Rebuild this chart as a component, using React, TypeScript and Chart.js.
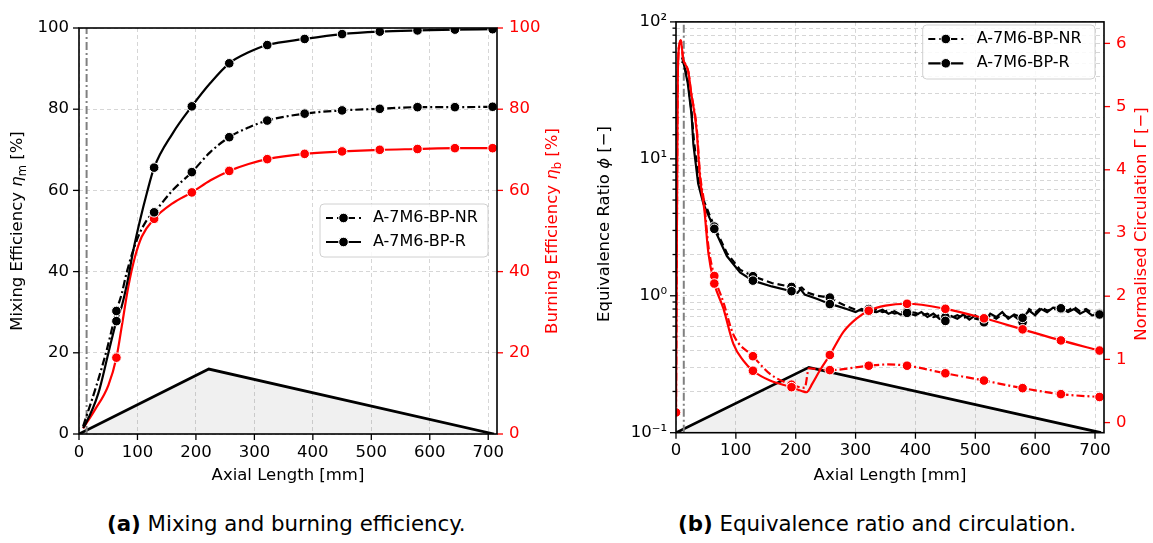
import React, { useEffect, useRef } from "react";
import { Chart, registerables } from "chart.js";
Chart.register(...registerables);

// ===== (a) Mixing and burning efficiency =====
const markerXA = [64, 128.5, 193, 257, 322, 386, 450, 514.5, 579, 643, 707.5];
const mixingR = [27.8, 65.6, 80.7, 91.3, 95.8, 97.3, 98.5, 99.1, 99.4, 99.6, 99.7];
const mixingNR = [30.3, 54.6, 64.5, 73.1, 77.2, 78.9, 79.7, 80.1, 80.5, 80.5, 80.6];
const burningR = [18.8, 53.0, 59.5, 64.8, 67.7, 69.0, 69.6, 70.0, 70.2, 70.4, 70.4];
// points traced along the curves between markers
const mixingRTraceX = [7, 10.3, 33, 50.2, 73, 83.4, 93, 104.5, 116, 160, 225, 290];
const mixingRTraceY = [1.5, 2.2, 10, 19.9, 31.4, 37.9, 45.3, 52.7, 59.3, 74.0, 86.5, 94.0];
const mixingNRTraceX = [7, 30, 48, 73, 82, 99, 116, 160, 225, 290];
const mixingNRTraceY = [1.9, 12, 21, 34.5, 40, 47.8, 52.7, 60.0, 69.5, 75.5];
const burningRTraceX = [7, 27.4, 50.2, 73, 84.4, 95.9, 107.3, 160, 225, 290];
const burningRTraceY = [1.4, 6.0, 12.0, 26.4, 36.3, 43.7, 48.6, 56.8, 62.5, 66.5];
const geometryX = [0, 222, 710];
const geometryYA = [0, 16, 0];
const inletX = 13;

// ===== (b) Equivalence ratio and circulation =====
const markerXB = [64, 128.5, 193, 257, 322, 386, 450, 514.5, 579, 643, 707.5];
const phiR = [3.08, 1.29, 1.08, 0.87, 0.77, 0.75, 0.655, 0.64, 0.69, 0.81, 0.73];
const phiNR = [3.2, 1.39, 1.16, 0.97, 0.8, 0.77, 0.7, 0.66, 0.64, 0.8, 0.74];
const phiRTraceX = [10, 12, 19.5, 26, 29, 37, 45.7, 85, 107, 160, 203, 208, 215, 235, 270, 285, 300, 310, 335, 345, 355, 365, 375, 400, 410, 420, 430, 440, 460, 470, 480, 490, 500, 525, 535, 545, 555, 565, 590, 600, 610, 620, 630, 655, 665, 675, 685, 695];
const phiRTraceY = [50, 52, 36, 21, 12.8, 6.6, 4.7, 1.95, 1.48, 1.17, 1.05, 1.12, 1.02, 0.95, 0.84, 0.8, 0.76, 0.8, 0.76, 0.79, 0.74, 0.77, 0.73, 0.72, 0.76, 0.7, 0.74, 0.68, 0.71, 0.68, 0.73, 0.67, 0.72, 0.74, 0.7, 0.76, 0.68, 0.73, 0.78, 0.72, 0.8, 0.76, 0.82, 0.76, 0.8, 0.74, 0.78, 0.72];
const phiNRTraceX = [10, 13, 20, 26, 30, 38, 46, 85, 107, 160, 203, 210, 218, 235, 270, 285, 300, 312, 335, 345, 355, 365, 375, 400, 410, 420, 430, 440, 460, 470, 480, 490, 500, 525, 535, 545, 555, 565, 590, 600, 610, 620, 630, 655, 665, 675, 685, 695];
const phiNRTraceY = [55, 50, 37, 22, 13.5, 7.0, 5.0, 2.05, 1.55, 1.24, 1.12, 1.15, 1.06, 1.0, 0.9, 0.84, 0.79, 0.78, 0.79, 0.76, 0.78, 0.74, 0.76, 0.75, 0.72, 0.74, 0.7, 0.72, 0.69, 0.72, 0.69, 0.71, 0.68, 0.72, 0.68, 0.73, 0.7, 0.71, 0.8, 0.75, 0.82, 0.78, 0.8, 0.78, 0.83, 0.77, 0.8, 0.75];
const circRMarkX = [0, 64, 128.5, 193, 257, 322, 386, 450, 514.5, 579, 643, 707.5];
const circR = [0.16, 2.2, 0.82, 0.56, 1.07, 1.77, 1.88, 1.8, 1.65, 1.475, 1.3, 1.14];
const circNRMarkX = [64, 128.5, 193, 257, 322, 386, 450, 514.5, 579, 643, 707.5];
const circNR = [2.32, 1.05, 0.6, 0.83, 0.9, 0.9, 0.78, 0.665, 0.545, 0.45, 0.405];
const circRTraceX = [1.5, 3, 6, 8, 12, 15, 20.6, 25, 34.6, 40, 47.4, 54, 79, 96, 112.5, 157, 210, 218, 228, 240, 280, 302, 350];
const circRTraceY = [3.0, 5.5, 6.0, 6.05, 5.75, 5.68, 5.55, 5.24, 4.61, 3.88, 3.36, 2.69, 1.81, 1.24, 0.98, 0.665, 0.5, 0.48, 0.62, 0.82, 1.44, 1.65, 1.85];
const circNRTraceX = [0, 1.5, 3, 6, 8, 12, 15, 20.6, 25, 34.6, 40, 47.4, 54, 79, 96, 157, 215, 222, 240, 354];
const circNRTraceY = [0.16, 3.0, 5.5, 6.0, 6.05, 5.75, 5.68, 5.55, 5.24, 4.66, 3.95, 3.45, 2.8, 1.91, 1.39, 0.77, 0.55, 0.86, 0.84, 0.92];
const geometryYB = [0.1, 0.3, 0.1];
const logTickValues = [0.1, 1, 10, 100];
const logTickLabels = ["10\u207B\u00B9", "10\u2070", "10\u00B9", "10\u00B2"];

const seriesLabels = ["A-7M6-BP-NR", "A-7M6-BP-R"];

// ===== helpers =====
type Pt = { x: number; y: number };
const zip = (xs: number[], ys: number[]): Pt[] => xs.map((x, i) => ({ x, y: ys[i] }));
const merge = (a: Pt[], b: Pt[]): Pt[] => [...a, ...b].sort((p, q) => p.x - q.x);

const FONT = "'DejaVu Sans', sans-serif";
const TICK_SIZE = 16.5;
const TITLE_SIZE = 16.5;
const LEG_SIZE = 16;
const RED = "#ff0000";
const GRID = "rgba(0,0,0,0.16)";
const DASHDOT = [8, 3, 2, 3];
const LINE_W = 2.2;
const MARK_R = 4.8;

type Seg = { t: string; it?: boolean; sub?: boolean };

function drawRich(ctx: CanvasRenderingContext2D, segs: Seg[], cx: number, cy: number, rot: number, color: string, size: number) {
  const fontOf = (s: Seg) => `${s.it ? "italic " : ""}${s.sub ? size * 0.7 : size}px ${FONT}`;
  let total = 0;
  const ws = segs.map((s) => {
    ctx.font = fontOf(s);
    const w = ctx.measureText(s.t).width;
    total += w;
    return w;
  });
  ctx.save();
  ctx.translate(cx, cy);
  ctx.rotate(rot);
  ctx.fillStyle = color;
  ctx.textBaseline = "middle";
  ctx.textAlign = "left";
  let x = -total / 2;
  segs.forEach((s, i) => {
    ctx.font = fontOf(s);
    ctx.fillText(s.t, x, s.sub ? size * 0.28 : 0);
    x += ws[i];
  });
  ctx.restore();
}

type TickSpec = { id: string; side: "left" | "right" | "bottom"; color: string; len: number; minorLen?: number; isMajor?: (v: number) => boolean };
type TitleSpec = { segs: Seg[]; x: number; y: number; rot: number; color: string };
type LegendSpec = { x: number; y: number; w: number; h: number; rows: number[]; sx0: number; sx1: number; tx: number };

function decor(ticks: TickSpec[], titles: TitleSpec[], legend: LegendSpec) {
  return {
    id: "decor",
    afterDraw(chart: any) {
      const ctx: CanvasRenderingContext2D = chart.ctx;
      const a = chart.chartArea;
      ticks.forEach((spec) => {
        const s = chart.scales[spec.id];
        ctx.save();
        ctx.strokeStyle = spec.color;
        ctx.lineWidth = 1.3;
        s.ticks.forEach((t: any) => {
          const v = t.value;
          const major = spec.isMajor ? spec.isMajor(v) : true;
          const L = major ? spec.len : spec.minorLen || 0;
          if (!L) return;
          const p = s.getPixelForValue(v);
          ctx.beginPath();
          if (spec.side === "left") { ctx.moveTo(a.left, p); ctx.lineTo(a.left - L, p); }
          else if (spec.side === "right") { ctx.moveTo(a.right, p); ctx.lineTo(a.right + L, p); }
          else { ctx.moveTo(p, a.bottom); ctx.lineTo(p, a.bottom + L); }
          ctx.stroke();
        });
        ctx.restore();
      });
      ctx.save();
      ctx.strokeStyle = "#000";
      ctx.lineWidth = 1.6;
      ctx.strokeRect(a.left, a.top, a.right - a.left, a.bottom - a.top);
      ctx.restore();
      titles.forEach((t) => drawRich(ctx, t.segs, t.x, t.y, t.rot, t.color, TITLE_SIZE));
      ctx.save();
      ctx.beginPath();
      if ((ctx as any).roundRect) (ctx as any).roundRect(legend.x, legend.y, legend.w, legend.h, 4);
      else ctx.rect(legend.x, legend.y, legend.w, legend.h);
      ctx.fillStyle = "rgba(255,255,255,0.85)";
      ctx.fill();
      ctx.strokeStyle = "#d0d0d0";
      ctx.lineWidth = 1;
      ctx.stroke();
      seriesLabels.forEach((lab, i) => {
        const y = legend.rows[i];
        ctx.beginPath();
        ctx.setLineDash(i === 0 ? [7, 4] : []);
        ctx.strokeStyle = "#000";
        ctx.lineWidth = LINE_W;
        ctx.moveTo(legend.sx0, y);
        ctx.lineTo(legend.sx1, y);
        ctx.stroke();
        ctx.setLineDash([]);
        ctx.beginPath();
        ctx.arc((legend.sx0 + legend.sx1) / 2, y, MARK_R, 0, Math.PI * 2);
        ctx.fillStyle = "#000";
        ctx.fill();
        ctx.strokeStyle = "#fff";
        ctx.lineWidth = 1;
        ctx.stroke();
        ctx.font = `${LEG_SIZE}px ${FONT}`;
        ctx.fillStyle = "#000";
        ctx.textBaseline = "middle";
        ctx.textAlign = "left";
        ctx.fillText(lab, legend.tx, y);
      });
      ctx.restore();
    },
  };
}

const tickFont = { family: FONT, size: TICK_SIZE };

function curve(data: Pt[], color: string, dash: number[], yAxisID: string, mono: boolean, order: number) {
  return {
    data,
    borderColor: color,
    borderWidth: LINE_W,
    borderDash: dash,
    pointRadius: 0,
    fill: false,
    yAxisID,
    cubicInterpolationMode: mono ? "monotone" : "default",
    tension: 0,
    order,
  };
}
function markers(data: Pt[], color: string, yAxisID: string, order: number) {
  return {
    data,
    showLine: false,
    pointRadius: MARK_R,
    pointBackgroundColor: color,
    pointBorderColor: "#fff",
    pointBorderWidth: 1,
    yAxisID,
    order,
  };
}

function configA(): any {
  return {
    type: "line",
    data: {
      datasets: [
        { data: zip(geometryX, geometryYA), borderColor: "#000", borderWidth: 2.8, backgroundColor: "rgba(0,0,0,0.06)", fill: "origin", pointRadius: 0, yAxisID: "y", order: 20 },
        { data: [{ x: inletX, y: 0 }, { x: inletX, y: 100 }], borderColor: "#808080", borderWidth: 2, borderDash: DASHDOT, pointRadius: 0, yAxisID: "y", order: 19 },
        curve(merge(zip(markerXA, burningR), zip(burningRTraceX, burningRTraceY)), RED, [], "y1", true, 8),
        curve(merge(zip(markerXA, mixingNR), zip(mixingNRTraceX, mixingNRTraceY)), "#000", DASHDOT, "y", true, 7),
        curve(merge(zip(markerXA, mixingR), zip(mixingRTraceX, mixingRTraceY)), "#000", [], "y", true, 6),
        markers(zip(markerXA, burningR), RED, "y1", 3),
        markers(zip(markerXA, mixingNR), "#000", "y", 2),
        markers(zip(markerXA, mixingR), "#000", "y", 1),
      ],
    },
    options: {
      animation: false,
      responsive: false,
      layout: { padding: { top: 28, left: 0, right: 0, bottom: 11 } },
      plugins: { legend: { display: false }, tooltip: { enabled: false } },
      scales: {
        x: {
          type: "linear", min: 0, max: 715,
          afterFit: (s: any) => { s.height = 50; },
          ticks: { stepSize: 100, includeBounds: false, font: tickFont, color: "#000", padding: 9, maxRotation: 0 },
          grid: { color: GRID, drawTicks: false, lineWidth: 1 },
          border: { display: false, dash: [4, 3] },
        },
        y: {
          type: "linear", position: "left", min: 0, max: 100,
          afterFit: (s: any) => { s.width = 79; },
          ticks: { stepSize: 20, font: tickFont, color: "#000", padding: 10 },
          grid: { color: GRID, drawTicks: false, lineWidth: 1 },
          border: { display: false, dash: [4, 3] },
        },
        y1: {
          type: "linear", position: "right", min: 0, max: 100,
          afterFit: (s: any) => { s.width = 79; },
          ticks: { stepSize: 20, font: tickFont, color: RED, padding: 12 },
          grid: { display: false, drawTicks: false },
          border: { display: false },
        },
      },
    },
    plugins: [
      decor(
        [
          { id: "x", side: "bottom", color: "#000", len: 6 },
          { id: "y", side: "left", color: "#000", len: 6 },
          { id: "y1", side: "right", color: RED, len: 6 },
        ],
        [
          { segs: [{ t: "Axial Length [mm]" }], x: 288, y: 476, rot: 0, color: "#000" },
          { segs: [{ t: "Mixing Efficiency " }, { t: "\u03B7", it: true }, { t: "m", sub: true }, { t: " [%]" }], x: 18, y: 231, rot: -Math.PI / 2, color: "#000" },
          { segs: [{ t: "Burning Efficiency " }, { t: "\u03B7", it: true }, { t: "b", sub: true }, { t: " [%]" }], x: 553, y: 231, rot: -Math.PI / 2, color: RED },
        ],
        { x: 320, y: 204, w: 168, h: 53, rows: [218, 242], sx0: 326, sx1: 361, tx: 373 }
      ),
    ],
  };
}

const isPow10 = (v: number) => {
  const l = Math.log10(v);
  return Math.abs(l - Math.round(l)) < 1e-6;
};

function configB(): any {
  return {
    type: "line",
    data: {
      datasets: [
        { data: zip(geometryX, geometryYB), borderColor: "#000", borderWidth: 2.8, backgroundColor: "rgba(0,0,0,0.06)", fill: "start", pointRadius: 0, yAxisID: "y", order: 20 },
        { data: [{ x: inletX, y: 0.1 }, { x: inletX, y: 100 }], borderColor: "#808080", borderWidth: 2, borderDash: DASHDOT, pointRadius: 0, yAxisID: "y", order: 19 },
        curve(merge(zip(markerXB, phiNR), zip(phiNRTraceX, phiNRTraceY)), "#000", [7, 4], "y", false, 10),
        curve(merge(zip(markerXB, phiR), zip(phiRTraceX, phiRTraceY)), "#000", [], "y", false, 9),
        curve(merge(zip(circNRMarkX, circNR), zip(circNRTraceX, circNRTraceY)), RED, DASHDOT, "y1", true, 8),
        curve(merge(zip(circRMarkX, circR), zip(circRTraceX, circRTraceY)), RED, [], "y1", true, 7),
        markers(zip(markerXB, phiNR), "#000", "y", 4),
        markers(zip(markerXB, phiR), "#000", "y", 3),
        markers(zip(circNRMarkX, circNR), RED, "y1", 2),
        markers(zip(circRMarkX, circR), RED, "y1", 1),
      ],
    },
    options: {
      animation: false,
      responsive: false,
      layout: { padding: { top: 15.7, left: 0, right: 0, bottom: 12.3 } },
      plugins: { legend: { display: false }, tooltip: { enabled: false } },
      scales: {
        x: {
          type: "linear", min: 0, max: 715,
          afterFit: (s: any) => { s.height = 50; },
          ticks: { stepSize: 100, includeBounds: false, font: tickFont, color: "#000", padding: 8, maxRotation: 0 },
          grid: { color: GRID, drawTicks: false, lineWidth: 1 },
          border: { display: false, dash: [4, 3] },
        },
        y: {
          type: "logarithmic", position: "left", min: 0.1, max: 100,
          afterFit: (s: any) => { s.width = 100; },
          ticks: {
            font: tickFont, color: "#000", padding: 9, autoSkip: false,
            callback: (v: number) => {
              const i = logTickValues.findIndex((t) => Math.abs(Math.log10(t) - Math.log10(v)) < 1e-6);
              return i >= 0 ? logTickLabels[i] : "";
            },
          },
          grid: { color: GRID, drawTicks: false, lineWidth: 1 },
          border: { display: false, dash: [4, 3] },
        },
        y1: {
          type: "linear", position: "right", min: -0.16, max: 6.34,
          afterFit: (s: any) => { s.width = 49; },
          ticks: { stepSize: 1, includeBounds: false, font: tickFont, color: RED, padding: 12 },
          grid: { display: false, drawTicks: false },
          border: { display: false },
        },
      },
    },
    plugins: [
      decor(
        [
          { id: "x", side: "bottom", color: "#000", len: 6 },
          { id: "y", side: "left", color: "#000", len: 6, minorLen: 3.5, isMajor: isPow10 },
          { id: "y1", side: "right", color: RED, len: 6 },
        ],
        [
          { segs: [{ t: "Axial Length [mm]" }], x: 314, y: 476, rot: 0, color: "#000" },
          { segs: [{ t: "Equivalence Ratio " }, { t: "\u03D5", it: true }, { t: " [\u2212]" }], x: 29, y: 224, rot: -Math.PI / 2, color: "#000" },
          { segs: [{ t: "Normalised Circulation \u0393 [\u2212]" }], x: 565.7, y: 224, rot: -Math.PI / 2, color: RED },
        ],
        { x: 346.7, y: 25, w: 172.3, h: 54, rows: [39, 63.3], sx0: 352.3, sx1: 387.3, tx: 400.7 }
      ),
    ],
  };
}

const captionStyle: React.CSSProperties = {
  position: "absolute",
  top: 511,
  fontFamily: "'DejaVu Sans', sans-serif",
  fontSize: 21.3,
  lineHeight: "25px",
  color: "#000",
  whiteSpace: "nowrap",
};

export default function App() {
  const aRef = useRef<HTMLCanvasElement>(null);
  const bRef = useRef<HTMLCanvasElement>(null);
  useEffect(() => {
    const ca = new Chart(aRef.current!, configA());
    const cb = new Chart(bRef.current!, configB());
    return () => {
      ca.destroy();
      cb.destroy();
    };
  }, []);
  return (
    <div style={{ position: "absolute", left: 0, top: 0, width: 1153, height: 543, background: "#fff" }}>
      <canvas ref={aRef} width={576} height={495} style={{ position: "absolute", left: 0, top: 0 }} />
      <canvas ref={bRef} width={577} height={495} style={{ position: "absolute", left: 576, top: 0 }} />
      <div style={{ ...captionStyle, left: 107 }}>
        <b>(a)</b> Mixing and burning efficiency.
      </div>
      <div style={{ ...captionStyle, left: 678 }}>
        <b>(b)</b> Equivalence ratio and circulation.
      </div>
    </div>
  );
}
